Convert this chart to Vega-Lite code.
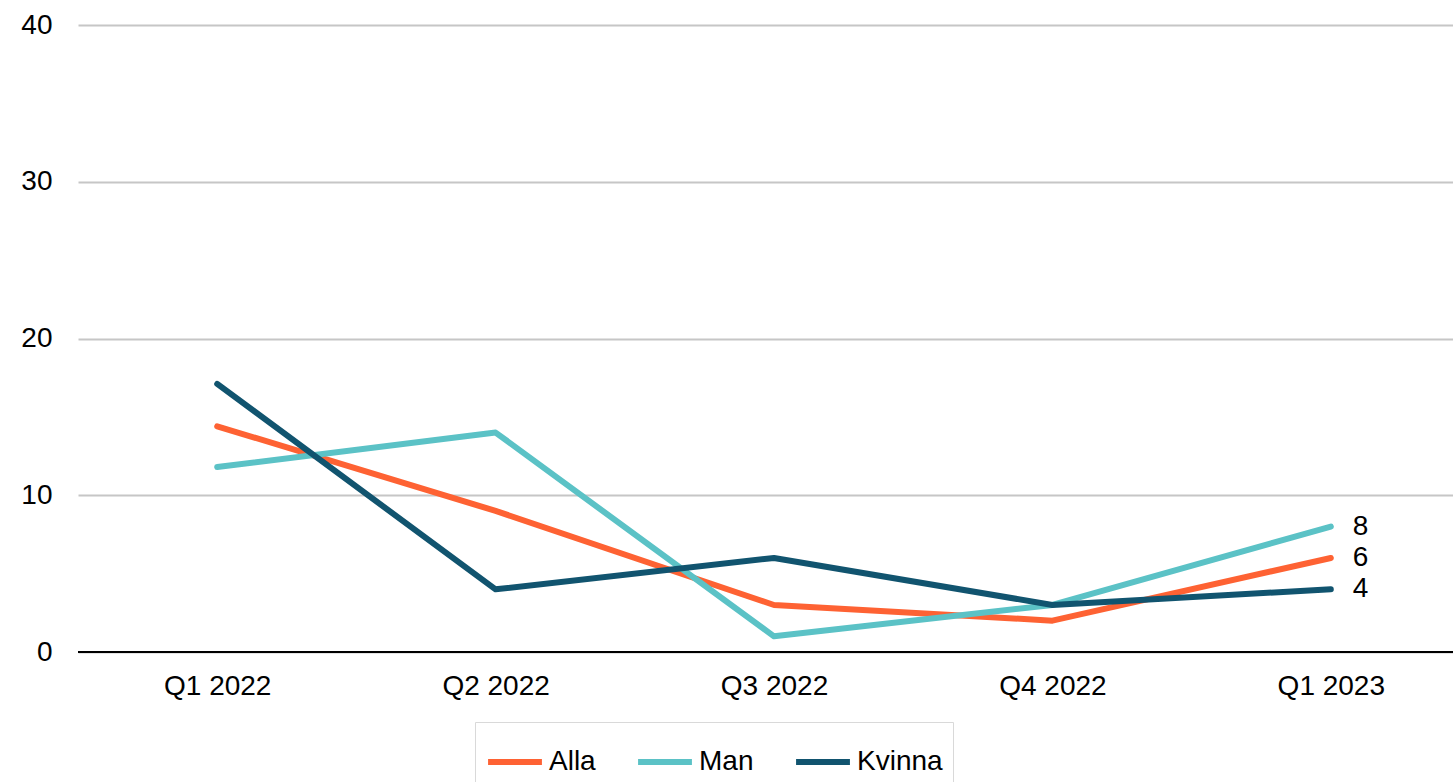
{
  "$schema": "https://vega.github.io/schema/vega-lite/v6.json",
  "width": 1392,
  "height": 627,
  "autosize": {"type": "none"},
  "padding": {"left": 78, "top": 25, "right": 0, "bottom": 130},
  "background": "white",
  "config": {
    "view": {"stroke": null},
    "font": "Liberation Sans",
    "text": {"font": "Liberation Sans"}
  },
  "data": {
    "values": [
      {"quarter": "Q1 2022", "series": "Alla", "value": 14.4},
      {"quarter": "Q2 2022", "series": "Alla", "value": 9},
      {"quarter": "Q3 2022", "series": "Alla", "value": 3},
      {"quarter": "Q4 2022", "series": "Alla", "value": 2},
      {"quarter": "Q1 2023", "series": "Alla", "value": 6},
      {"quarter": "Q1 2022", "series": "Man", "value": 11.8},
      {"quarter": "Q2 2022", "series": "Man", "value": 14},
      {"quarter": "Q3 2022", "series": "Man", "value": 1},
      {"quarter": "Q4 2022", "series": "Man", "value": 3},
      {"quarter": "Q1 2023", "series": "Man", "value": 8},
      {"quarter": "Q1 2022", "series": "Kvinna", "value": 17.1},
      {"quarter": "Q2 2022", "series": "Kvinna", "value": 4},
      {"quarter": "Q3 2022", "series": "Kvinna", "value": 6},
      {"quarter": "Q4 2022", "series": "Kvinna", "value": 3},
      {"quarter": "Q1 2023", "series": "Kvinna", "value": 4}
    ]
  },
  "encoding": {
    "x": {
      "field": "quarter",
      "type": "ordinal",
      "sort": ["Q1 2022", "Q2 2022", "Q3 2022", "Q4 2022", "Q1 2023"],
      "scale": {"type": "point", "padding": 0.5},
      "axis": {
        "title": null,
        "labelAngle": 0,
        "labelFontSize": 28,
        "labelColor": "#000000",
        "labelPadding": 20,
        "ticks": false,
        "grid": false,
        "domain": false
      }
    },
    "y": {
      "field": "value",
      "type": "quantitative",
      "scale": {"domain": [0, 40]},
      "axis": {
        "title": null,
        "values": [0, 10, 20, 30, 40],
        "labelFontSize": 28,
        "labelColor": "#000000",
        "labelPadding": 26,
        "ticks": false,
        "domain": false,
        "grid": true,
        "gridColor": "#c6c6c6",
        "gridWidth": 2
      }
    },
    "color": {
      "field": "series",
      "type": "nominal",
      "sort": ["Alla", "Man", "Kvinna"],
      "scale": {"domain": ["Alla", "Man", "Kvinna"], "range": ["#FE6233", "#5BC2C6", "#11546F"]},
      "legend": {
        "title": null,
        "orient": "none",
        "legendX": 397,
        "legendY": 697,
        "direction": "horizontal",
        "symbolType": "stroke",
        "symbolStrokeWidth": 6,
        "symbolSize": 2900,
        "labelFontSize": 28,
        "labelColor": "#000000",
        "labelOffset": 4,
        "columnPadding": 30,
        "strokeColor": "#d9d9d9",
        "padding": 10,
        "fillColor": "white"
      }
    }
  },
  "layer": [
    {
      "mark": {"type": "rule", "color": "#000000", "strokeWidth": 2},
      "data": {"values": [{"v": 0}]},
      "encoding": {
        "y": {"field": "v", "type": "quantitative"},
        "x": null,
        "color": null
      }
    },
    {
      "mark": {"type": "line", "strokeWidth": 6, "strokeCap": "round", "strokeJoin": "round"}
    },
    {
      "transform": [{"filter": "datum.quarter == 'Q1 2023'"}],
      "mark": {"type": "text", "align": "left", "dx": 22, "fontSize": 28, "color": "#000000"},
      "encoding": {
        "text": {"field": "value", "type": "quantitative"},
        "color": null
      }
    }
  ]
}
